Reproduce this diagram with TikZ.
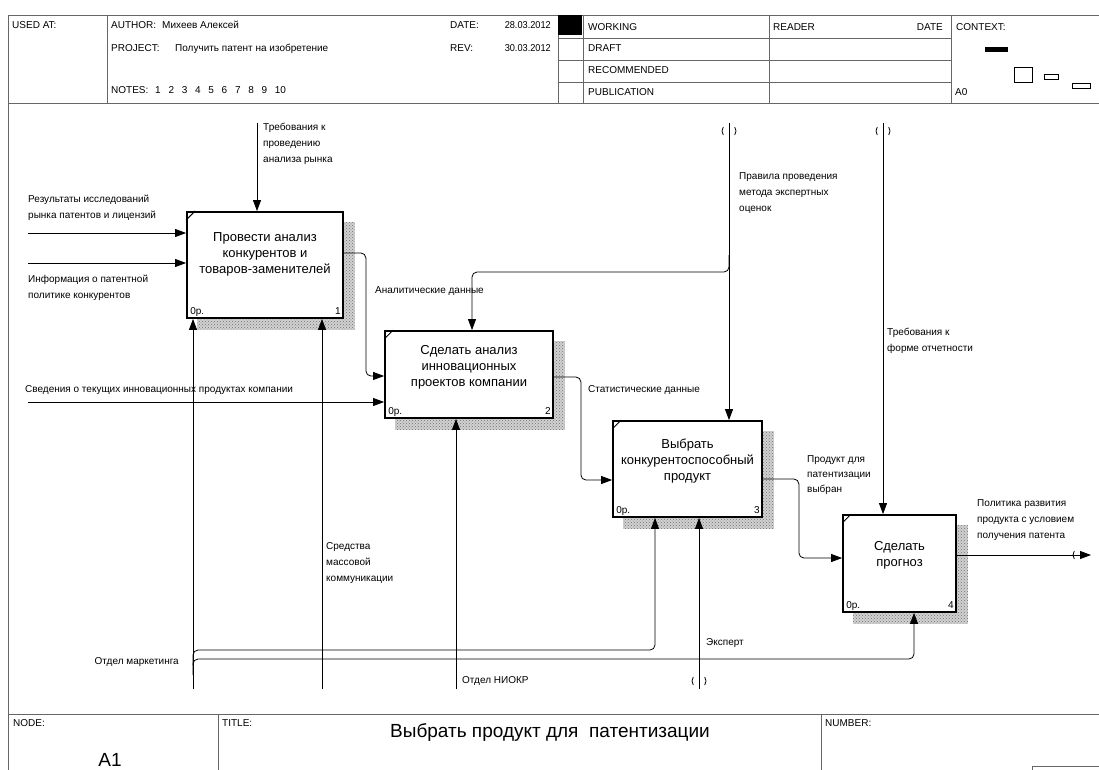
\documentclass[tikz,border=0pt]{standalone}
\usepackage{fontspec}
\usepackage{graphicx}
\setmainfont{Liberation Sans}
\usetikzlibrary{arrows.meta,patterns,calc}
\pgfdeclarelayer{bg}
\pgfsetlayers{bg,main}
\begin{document}
\begin{tikzpicture}[x=1pt,y=-1pt,
  frame/.style={draw=black!60,line width=0.9pt},
  proc/.style={draw=black,line width=1.8pt,fill=white,inner sep=0pt},
  boxtxt/.style={font=\fontsize{13}{16}\selectfont,align=center,inner sep=0pt},
  lbl/.style={font=\fontsize{10}{16}\selectfont,align=left,inner sep=0pt,anchor=base west},
  hdr/.style={font=\fontsize{10}{12}\selectfont,inner sep=0pt,anchor=base west},
  small/.style={font=\fontsize{10}{12}\selectfont,inner sep=0pt},
  arr/.style={draw=black,line width=0.8pt,-{Triangle[length=11pt,width=8pt]}},
  ln/.style={draw=black,line width=0.8pt},
  shd/.style={fill=black!18,postaction={pattern=crosshatch dots,pattern color=black!55}},
  tun/.style={draw=black,line width=0.8pt},
  rc/.style={rounded corners=5pt},
]
\useasboundingbox (0,0) rectangle (1099,770);
\begin{pgfonlayer}{bg}
\fill[white] (0,0) rectangle (1099,770);
\end{pgfonlayer}

% ---------- header ----------
\draw[frame] (8,770) -- (8,15) -- (1099,15);
\draw[frame] (8,103) -- (1099,103);
\draw[frame] (107,15) -- (107,103);
\draw[frame] (558,15) -- (558,103);
\fill (558,15) rectangle (582,35);
\draw[frame] (583,15) -- (583,103);
\draw[frame] (769,15) -- (769,103);
\draw[frame] (951,15) -- (951,103);
\foreach \y in {38,60,82} \draw[frame] (558,\y) -- (951,\y);

\node[hdr] (usedat) at (12,29) {USED AT:};
\node[hdr] (author) at (111,29) {AUTHOR:};
\node[hdr] (authorv) at (162,29) {Михеев Алексей};
\node[hdr] (project) at (111,52) {PROJECT:};
\node[hdr] (projectv) at (175,52) {Получить патент на изобретение};
\node[hdr] (notes) at (111,94) {NOTES:};
\foreach \n [count=\i from 0] in {1,2,3,4,5,6,7,8,9,10}
  \node[hdr] (note\n) at (155+13.3*\i,94) {\n};
\node[hdr] (date) at (450,29) {DATE:};
\node[hdr,anchor=base east] (datev) at (551,29) {\scalebox{0.92}[1]{28.03.2012}};
\node[hdr] (rev) at (450,52) {REV:};
\node[hdr,anchor=base east] (revv) at (551,52) {\scalebox{0.92}[1]{30.03.2012}};
\node[hdr] (working) at (588,31) {WORKING};
\node[hdr] (draft) at (588,52) {DRAFT};
\node[hdr] (recommended) at (588,74) {RECOMMENDED};
\node[hdr] (publication) at (588,96) {PUBLICATION};
\node[hdr] (reader) at (773,31) {READER};
\node[hdr,anchor=base east] (rdate) at (943,31) {DATE};
\node[hdr] (context) at (956,31) {CONTEXT:};
\node[hdr] (a0) at (955,96) {A0};
\fill (985,47) rectangle (1008,52);
\draw[line width=0.8pt] (1014,67) rectangle (1032,82);
\draw[line width=0.8pt] (1044,74) rectangle (1058,79);
\draw[line width=0.8pt] (1072,83) rectangle (1090,88);

% ---------- footer ----------
\draw[frame] (8,714) -- (1099,714);
\draw[frame] (218,714) -- (218,770);
\draw[frame] (821,714) -- (821,770);
\draw[frame] (1032,770) -- (1032,766) -- (1099,766);
\node[hdr] (nodelbl) at (13,726) {NODE:};
\node[hdr] (titlelbl) at (222,726) {TITLE:};
\node[hdr] (numberlbl) at (825,726) {NUMBER:};
\node[inner sep=0pt,font=\fontsize{19}{22}\selectfont] (title) at (550,732) {Выбрать продукт для\ \ патентизации};
\node[inner sep=0pt,font=\fontsize{19}{22}\selectfont] (nodeid) at (110,760) {A1};

% ---------- boxes ----------
\node[proc,minimum width=156,minimum height=106] (b1) at (265,265) {};
\node[proc,minimum width=168,minimum height=87] (b2) at (469,374.5) {};
\node[proc,minimum width=149,minimum height=96] (b3) at (687.5,469) {};
\node[proc,minimum width=113,minimum height=97] (b4) at (899.5,563.5) {};

\begin{pgfonlayer}{bg}
\foreach \b in {b1,b2,b3,b4}
  \path[shd] ($(\b.north west)+(11,11)$) rectangle ($(\b.south east)+(11,11)$);
\end{pgfonlayer}

\foreach \b/\n in {b1/1,b2/2,b3/3,b4/4}{
  \draw[line width=1pt] ([yshift=-9pt]\b.north west) -- ([xshift=9pt]\b.north west);
  \node[small,anchor=base west] at ([xshift=4pt,yshift=4pt]\b.south west) {0р.};
  \node[small,anchor=base east] at ([xshift=-3pt,yshift=4pt]\b.south east) {\n};
}
\node[boxtxt] (b1t) at ([yshift=11pt]b1.center) {Провести анализ\\конкурентов и\\товаров-заменителей};
\node[boxtxt] (b2t) at ([yshift=7.5pt]b2.center) {Сделать анализ\\инновационных\\проектов компании};
\node[boxtxt] (b3t) at ([yshift=8pt]b3.center) {Выбрать\\конкурентоспособный\\продукт};
\node[boxtxt] (b4t) at ([yshift=8pt]b4.center) {Сделать\\прогноз};

% ---------- inputs ----------
\coordinate (i1) at (28,233);
\coordinate (i2) at (28,263);
\coordinate (i3) at (28,402);
\draw[arr] (i1) -- (i1 -| b1.west);
\draw[arr] (i2) -- (i2 -| b1.west);
\draw[arr] (i3) -- (i3 -| b2.west);
\node[lbl] (li1) at (28,218) {Результаты исследований\\рынка патентов и лицензий};
\node[lbl] (li2) at (28,298) {Информация о патентной\\политике конкурентов};
\node[lbl] (li3) at (25,392) {Сведения о текущих инновационных продуктах компании};

% ---------- controls ----------
\coordinate (c1) at (257,123);
\draw[arr] (c1) -- (c1 |- b1.north);
\node[lbl] (lc1) at (263,163) {Требования к\\проведению\\анализа рынка};

\coordinate (c2) at (729,123);
\draw[arr] (c2) -- (c2 |- b3.north);
\coordinate (c2b) at (729,255);
\coordinate (c2k) at (472,272);
\draw[arr,rc] (c2b) |- (c2k) -- (c2k |- b2.north);
\draw[tun] (729,131) ++(145:7) arc[start angle=145,end angle=215,radius=7];
\draw[tun] (729,131) ++(-35:7) arc[start angle=-35,end angle=35,radius=7];
\node[lbl] (lc2) at (739,211) {Правила проведения\\метода экспертных\\оценок};

\coordinate (c3) at (883,123);
\draw[arr] (c3) -- (c3 |- b4.north);
\draw[tun] (883,131) ++(145:7) arc[start angle=145,end angle=215,radius=7];
\draw[tun] (883,131) ++(-35:7) arc[start angle=-35,end angle=35,radius=7];
\node[lbl] (lc3) at (887,351) {Требования к\\форме отчетности};

% ---------- outputs ----------
\draw[arr,rc] ([yshift=12pt]b1.east) -- ++(22,0) |- ([yshift=-1.5pt]b2.west);
\node[lbl] (lo1) at (375,293) {Аналитические данные};
\draw[arr,rc] ([yshift=-2.5pt]b2.east) -- ++(27,0) |- ([yshift=-11pt]b3.west);
\node[lbl] (lo2) at (588,392) {Статистические данные};
\draw[arr,rc] ([yshift=-10pt]b3.east) -- ++(36,0) |- ([yshift=5.5pt]b4.west);
\node[lbl,font=\fontsize{10}{15}\selectfont] (lo3) at (807,492) {Продукт для\\патентизации\\выбран};
\coordinate (o4) at (1091,555);
\draw[arr] (o4 -| b4.east) -- (o4);
\draw[tun] (1080,555) ++(145:7) arc[start angle=145,end angle=215,radius=7];
\node[lbl] (lo4) at (977,538) {Политика развития\\продукта с условием\\получения патента};

% ---------- mechanisms ----------
\coordinate (m1) at (193,689);
\coordinate (m2) at (322,689);
\coordinate (m3) at (456,689);
\draw[arr] (m1) -- (m1 |- b1.south);
\draw[arr] (m2) -- (m2 |- b1.south);
\draw[arr] (m3) -- (m3 |- b2.south);
\coordinate (mk1) at (193,665);
\coordinate (k3) at (655,650);
\draw[arr,rc] (mk1) |- (k3) -- (k3 |- b3.south);
\coordinate (mk2) at (193,675);
\coordinate (k4) at (914,659);
\draw[arr,rc] (mk2) |- (k4) -- (k4 |- b4.south);
\coordinate (e) at (699,689);
\draw[arr] (e) -- (e |- b3.south);
\draw[tun] (699,681) ++(145:7) arc[start angle=145,end angle=215,radius=7];
\draw[tun] (699,681) ++(-35:7) arc[start angle=-35,end angle=35,radius=7];

\node[lbl] (lm2) at (326,581) {Средства\\массовой\\коммуникации};
\node[lbl,anchor=base east] (lmk) at (179,664) {Отдел маркетинга};
\node[lbl] (lm3) at (462,683) {Отдел НИОКР};
\node[lbl] (le) at (706,645) {Эксперт};
\end{tikzpicture}
\end{document}
